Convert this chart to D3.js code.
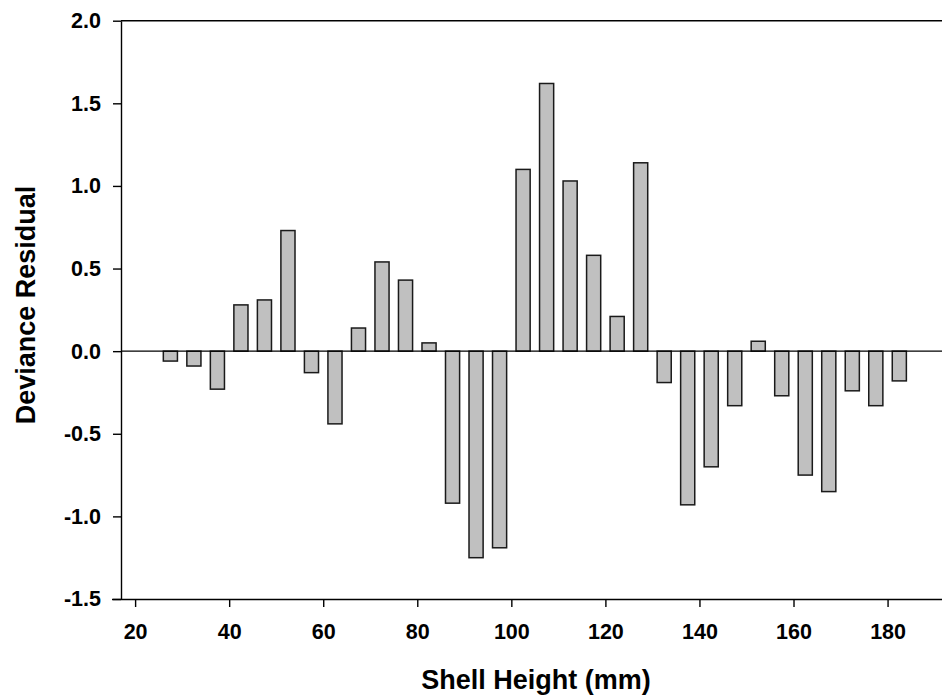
<!DOCTYPE html>
<html>
<head>
<meta charset="utf-8">
<script src="https://cdn.jsdelivr.net/npm/d3@7"></script>
<style>
  body { margin: 0; background: #fff; }
  text { font-family: "Liberation Sans", Arial, sans-serif; font-weight: bold; fill: #000; }
  .axis path, .axis line { stroke: #000; stroke-width: 1.4; }
  .bar { fill: #c0c0c0; stroke: #1a1a1a; stroke-width: 1.5; }
</style>
</head>
<body>
<svg id="chart" width="942" height="698"></svg>
<script>
// Bin centres (mm) and deviance residuals
const shellHeight = [27.5, 32.5, 37.5, 42.5, 47.5, 52.5, 57.5, 62.5, 67.5, 72.5, 77.5, 82.5,
  87.5, 92.5, 97.5, 102.5, 107.5, 112.5, 117.5, 122.5, 127.5, 132.5, 137.5, 142.5,
  147.5, 152.5, 157.5, 162.5, 167.5, 172.5, 177.5, 182.5];
const residual = [-0.06, -0.09, -0.23, 0.28, 0.31, 0.73, -0.13, -0.44, 0.14, 0.54, 0.43, 0.05,
  -0.92, -1.25, -1.19, 1.10, 1.62, 1.03, 0.58, 0.21, 1.14, -0.19, -0.93, -0.70,
  -0.33, 0.06, -0.27, -0.75, -0.85, -0.24, -0.33, -0.18];
const xTicks = [20, 40, 60, 80, 100, 120, 140, 160, 180];
const yTicks = [-1.5, -1.0, -0.5, 0.0, 0.5, 1.0, 1.5, 2.0];
const barWidth = 3; // in mm

const svg = d3.select('#chart');
const plotLeft = 121, plotRight = 944, plotTop = 20.7, plotBottom = 599;

const x = d3.scaleLinear().domain([17, 192]).range([plotLeft, plotRight]);
const y = d3.scaleLinear().domain([-1.5, 2.0]).range([plotBottom, plotTop]);

// plain hyphen instead of the unicode minus d3 puts in
const fmtY = v => d3.format('.1f')(v).replace('\u2212', '-');

// y axis
const yAxis = svg.append('g')
  .attr('class', 'axis')
  .attr('transform', `translate(${plotLeft},0)`)
  .call(d3.axisLeft(y).tickValues(yTicks).tickFormat(fmtY).tickSize(8).tickPadding(12).tickSizeOuter(0));
yAxis.selectAll('text').style('font-size', '21.5px');

// x axis
const xAxis = svg.append('g')
  .attr('class', 'axis')
  .attr('transform', `translate(0,${plotBottom})`)
  .call(d3.axisBottom(x).tickValues(xTicks).tickFormat(d3.format('d')).tickSize(8).tickPadding(17).tickSizeOuter(0));
xAxis.select('.domain').attr('d', `M${plotLeft - 9},0.5H${plotRight}`);
xAxis.selectAll('text').style('font-size', '21.5px');

// top frame line
svg.append('line')
  .attr('x1', plotLeft).attr('x2', plotRight)
  .attr('y1', y(2.0)).attr('y2', y(2.0))
  .attr('stroke', '#000').attr('stroke-width', 1.4);

// bars
svg.append('g').selectAll('rect')
  .data(shellHeight.map((h, i) => ({ h, r: residual[i] })))
  .join('rect')
  .attr('class', 'bar')
  .attr('x', d => x(d.h - barWidth / 2))
  .attr('width', d => x(d.h + barWidth / 2) - x(d.h - barWidth / 2))
  .attr('y', d => y(Math.max(0, d.r)))
  .attr('height', d => Math.abs(y(d.r) - y(0)));

// zero line
svg.append('line')
  .attr('x1', plotLeft).attr('x2', plotRight)
  .attr('y1', y(0)).attr('y2', y(0))
  .attr('stroke', '#000').attr('stroke-width', 1.4);

// axis titles
svg.append('text')
  .attr('x', 536).attr('y', 689)
  .attr('text-anchor', 'middle')
  .style('font-size', '27px')
  .text('Shell Height (mm)');

svg.append('text')
  .attr('transform', 'translate(35,305) rotate(-90)')
  .attr('text-anchor', 'middle')
  .style('font-size', '27px')
  .text('Deviance Residual');
</script>
</body>
</html>
